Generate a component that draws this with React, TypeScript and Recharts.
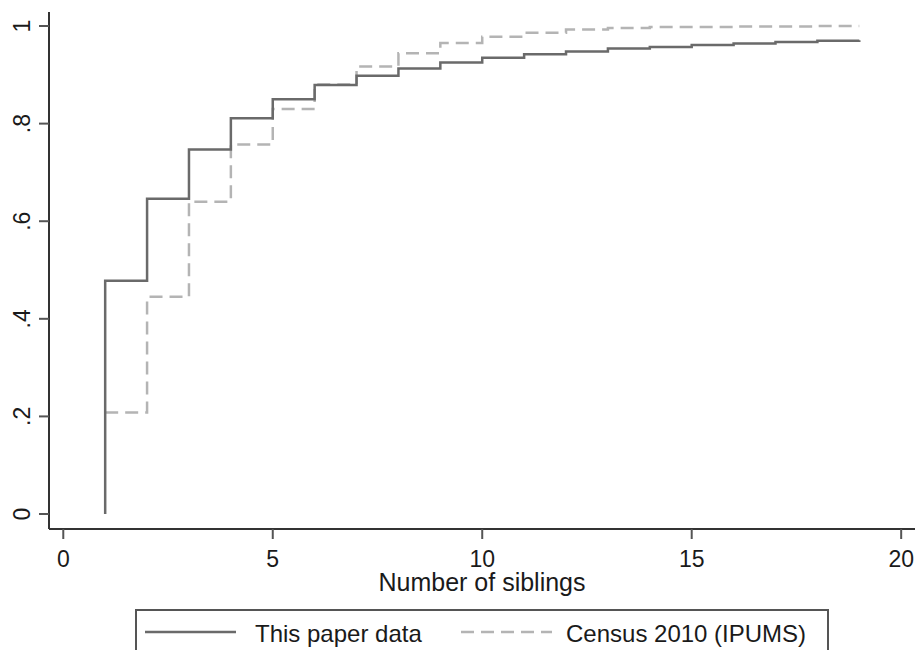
import React from 'react';
import { LineChart, Line, XAxis, YAxis, Legend } from 'recharts';

const siblings = [1, 2, 3, 4, 5, 6, 7, 8, 9, 10, 11, 12, 13, 14, 15, 16, 17, 18, 19];
const paperStart = 0;
const paperShare = [0.478, 0.646, 0.747, 0.811, 0.85, 0.879, 0.898, 0.913, 0.925, 0.935, 0.942, 0.948, 0.954, 0.957, 0.961, 0.964, 0.967, 0.97, 0.971];
const censusShare = [0.208, 0.445, 0.64, 0.757, 0.83, 0.88, 0.917, 0.944, 0.965, 0.978, 0.986, 0.993, 0.996, 0.998, 0.998, 0.999, 0.999, 1.0, 1.0];
const xTicks = [0, 5, 10, 15, 20];
const yTicks = [0, 0.2, 0.4, 0.6, 0.8, 1];
const seriesNames = ['This paper data', 'Census 2010 (IPUMS)'];

const paperData = [{ x: siblings[0], y: paperStart }, ...siblings.map((x, i) => ({ x, y: paperShare[i] }))];
const censusData = siblings.map((x, i) => ({ x, y: censusShare[i] }));

const FONT = '"Liberation Sans", Arial, sans-serif';
const TEXT = '#1a1a1a';
const SOLID = '#6a6a6a';
const DASH = '#b4b4b4';

const fmtY = (v: number) => (v === 0 ? '0' : v === 1 ? '1' : String(Math.round(v * 10) / 10).replace('0.', '.'));

const YTick = (props: any) => {
  const { y, payload } = props;
  const bx = 30;
  return (
    <text x={bx} y={y} transform={`rotate(-90, ${bx}, ${y})`} textAnchor="middle" fontSize={23} fontFamily={FONT} fill={TEXT}>
      {fmtY(payload.value)}
    </text>
  );
};

const LegendBox = () => (
  <div style={{ width: 694, height: 52, border: '2px solid #555', boxSizing: 'border-box', background: '#fff' }}>
    <svg width={690} height={48} style={{ display: 'block' }}>
      <line x1={8} x2={99} y1={21} y2={21} stroke={SOLID} strokeWidth={2.5} />
      <text x={118} y={31} fontSize={24} fontFamily={FONT} fill={TEXT}>{seriesNames[0]}</text>
      <line x1={324} x2={415} y1={21} y2={21} stroke={DASH} strokeWidth={2.5} strokeDasharray="13 7" />
      <text x={429} y={31} fontSize={24} fontFamily={FONT} fill={TEXT}>{seriesNames[1]}</text>
    </svg>
  </div>
);

export default function App() {
  return (
    <div style={{ position: 'absolute', left: 0, top: 0, width: 919, height: 650, background: '#fff' }}>
      <LineChart width={919} height={650} margin={{ top: 12, right: 4, left: 0, bottom: 41 }}>
        <XAxis
          xAxisId="main"
          type="number"
          dataKey="x"
          domain={[-0.341, 20.33]}
          allowDataOverflow
          ticks={xTicks}
          interval={0}
          height={80}
          tickSize={10}
          tickMargin={12}
          axisLine={{ stroke: '#333', strokeWidth: 2 }}
          tickLine={{ stroke: '#555', strokeWidth: 2 }}
          tick={{ fontSize: 23, fontFamily: FONT, fill: TEXT }}
          label={{ value: 'Number of siblings', position: 'insideBottom', offset: 18, fontSize: 25, fontFamily: FONT, fill: TEXT }}
        />
        <XAxis xAxisId="top" orientation="top" type="number" domain={[0, 1]} height={0} tick={false} tickLine={false} axisLine={{ stroke: '#777', strokeWidth: 2 }} />
        <YAxis
          yAxisId="main"
          type="number"
          domain={[-0.0307, 1.0287]}
          allowDataOverflow
          ticks={yTicks}
          interval={0}
          width={49}
          tickSize={10}
          axisLine={{ stroke: '#333', strokeWidth: 2 }}
          tickLine={{ stroke: '#555', strokeWidth: 2 }}
          tick={<YTick />}
        />
        <YAxis yAxisId="right" orientation="right" type="number" domain={[0, 1]} width={0} tick={false} tickLine={false} axisLine={{ stroke: '#777', strokeWidth: 2 }} />
        <Line
          xAxisId="main"
          yAxisId="main"
          data={censusData}
          dataKey="y"
          type="stepAfter"
          stroke={DASH}
          strokeWidth={2.5}
          strokeDasharray="13 7"
          dot={false}
          activeDot={false}
          isAnimationActive={false}
          name={seriesNames[1]}
        />
        <Line
          xAxisId="main"
          yAxisId="main"
          data={paperData}
          dataKey="y"
          type="stepAfter"
          stroke={SOLID}
          strokeWidth={2.5}
          dot={false}
          activeDot={false}
          isAnimationActive={false}
          name={seriesNames[0]}
        />
        <Legend
          layout="horizontal"
          verticalAlign="middle"
          align="center"
          wrapperStyle={{ left: 135, top: 609, width: 694, height: 52 }}
          content={<LegendBox />}
        />
      </LineChart>
    </div>
  );
}
